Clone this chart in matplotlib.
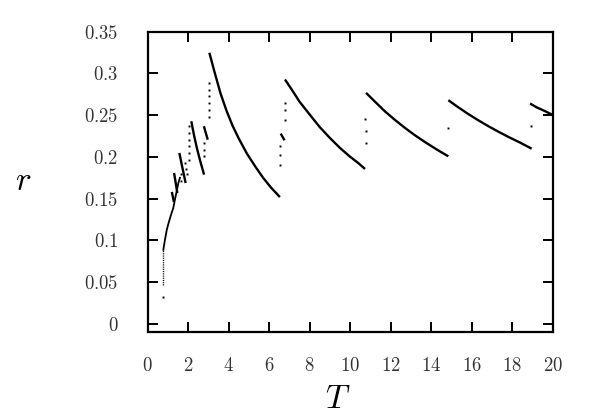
import matplotlib
matplotlib.use('Agg')
import matplotlib.pyplot as plt

plt.rcParams['mathtext.fontset'] = 'cm'
plt.rcParams['font.family'] = 'serif'
plt.rcParams['font.serif'] = ['DejaVu Serif']

# solid branches r(T)
seg1_T = [3.05, 3.3, 3.6, 3.9, 4.2, 4.5, 4.9, 5.3, 5.7, 6.1, 6.53]
seg1_r = [0.3246, 0.302, 0.276, 0.255, 0.237, 0.222, 0.204, 0.189, 0.175, 0.163, 0.1519]
seg2_T = [6.78, 7.1, 7.5, 8.0, 8.5, 9.0, 9.5, 10.0, 10.4, 10.73]
seg2_r = [0.2926, 0.281, 0.266, 0.2506, 0.2355, 0.2225, 0.2105, 0.200, 0.1925, 0.1855]
seg3_T = [10.78, 11.2, 11.7, 12.2, 12.7, 13.2, 13.7, 14.3, 14.84]
seg3_r = [0.2766, 0.2665, 0.2547, 0.2443, 0.2346, 0.2257, 0.2175, 0.2083, 0.2006]
seg4_T = [14.84, 15.3, 15.8, 16.3, 16.8, 17.3, 17.8, 18.4, 18.95]
seg4_r = [0.2678, 0.2598, 0.2516, 0.2440, 0.2369, 0.2302, 0.2239, 0.2168, 0.2098]
seg5_T = [18.87, 19.2, 19.6, 20.0]
seg5_r = [0.2638, 0.2592, 0.2548, 0.250]

# short branches at small T
segA_T = [2.16, 2.3, 2.45, 2.6, 2.79]
segA_r = [0.2426, 0.225, 0.209, 0.195, 0.1787]
segB_T = [2.78, 2.97]
segB_r = [0.2366, 0.2206]
segC_T = [1.57, 1.72, 1.88]
segC_r = [0.2047, 0.187, 0.1687]
segD_T = [1.31, 1.47]
segD_r = [0.1807, 0.1567]
segE_T = [1.2, 1.3]
segE_r = [0.158, 0.146]
segF_T = [6.57, 6.76]
segF_r = [0.2278, 0.2198]

# dotted column and rising curve near T ~ 0.8
col_T = [0.78, 0.78]
col_r = [0.047, 0.0887]
rise_T = [0.78, 0.82, 0.86, 0.95, 1.03, 1.11, 1.19, 1.27, 1.36, 1.45, 1.52, 1.6]
rise_r = [0.0887, 0.095, 0.1007, 0.1127, 0.120, 0.1267, 0.133, 0.1387, 0.150, 0.160, 0.1687, 0.175]

# isolated points
dots_T = [0.78, 6.55, 6.55, 6.55, 6.78, 6.78, 6.78,
          10.76, 10.76, 10.74, 14.84, 18.9,
          3.05, 3.05, 3.05, 3.05, 3.05, 3.05,
          2.79, 2.79, 2.79,
          2.05, 2.05, 2.05, 2.05, 2.05, 2.05,
          1.83, 1.88, 1.93, 1.64, 1.66]
dots_r = [0.0328, 0.190, 0.2026, 0.2126, 0.2438, 0.2558, 0.2646,
          0.2162, 0.231, 0.2458, 0.2346, 0.2366,
          0.2886, 0.2806, 0.2726, 0.2646, 0.2566, 0.248,
          0.2166, 0.2086, 0.2006,
          0.2366, 0.2286, 0.2206, 0.2126, 0.2046, 0.1966,
          0.193, 0.186, 0.179, 0.179, 0.171]

x_ticks = [0, 2, 4, 6, 8, 10, 12, 14, 16, 18, 20]
y_ticks = [0, 0.05, 0.1, 0.15, 0.2, 0.25, 0.3, 0.35]
y_labels = ['0', '0.05', '0.1', '0.15', '0.2', '0.25', '0.3', '0.35']

fig = plt.figure(figsize=(5.98, 4.19), dpi=100)
ax = fig.add_axes([0.2467, 0.2076, 0.678, 0.7172])

for T, r in [(seg1_T, seg1_r), (seg2_T, seg2_r), (seg3_T, seg3_r),
             (seg4_T, seg4_r), (seg5_T, seg5_r), (segA_T, segA_r),
             (segB_T, segB_r), (segC_T, segC_r), (segD_T, segD_r),
             (segE_T, segE_r), (segF_T, segF_r)]:
    ax.plot(T, r, color='black', lw=1.7, solid_capstyle='butt', solid_joinstyle='round')
ax.plot(col_T, col_r, color='black', lw=1.0, ls=(0, (0.8, 0.8)))
ax.plot(rise_T, rise_r, color='black', lw=1.3)
ax.plot(dots_T, dots_r, ls='none', marker='s', ms=1.4, color='black', mew=0)

ax.set_xlim(0, 20)
ax.set_ylim(-0.0096, 0.35)
ax.set_xticks(x_ticks)
ax.set_xticklabels(['$%d$' % t for t in x_ticks])
ax.set_yticks(y_ticks)
ax.set_yticklabels(['$%s$' % s for s in y_labels])
ax.tick_params(direction='in', length=7, width=1.4, top=True, right=True,
               labelsize=13.5, labelcolor='#333333')
ax.tick_params(axis='y', pad=21)
ax.tick_params(axis='x', pad=18)
for s in ax.spines.values():
    s.set_linewidth(1.6)

fig.text(338 / 598, 1 - 399 / 419, '$T$', fontsize=24, ha='center', va='center')
fig.text(23 / 598, 1 - 181 / 419, '$r$', fontsize=24, ha='center', va='center')

fig.savefig('out.png', dpi=100)
